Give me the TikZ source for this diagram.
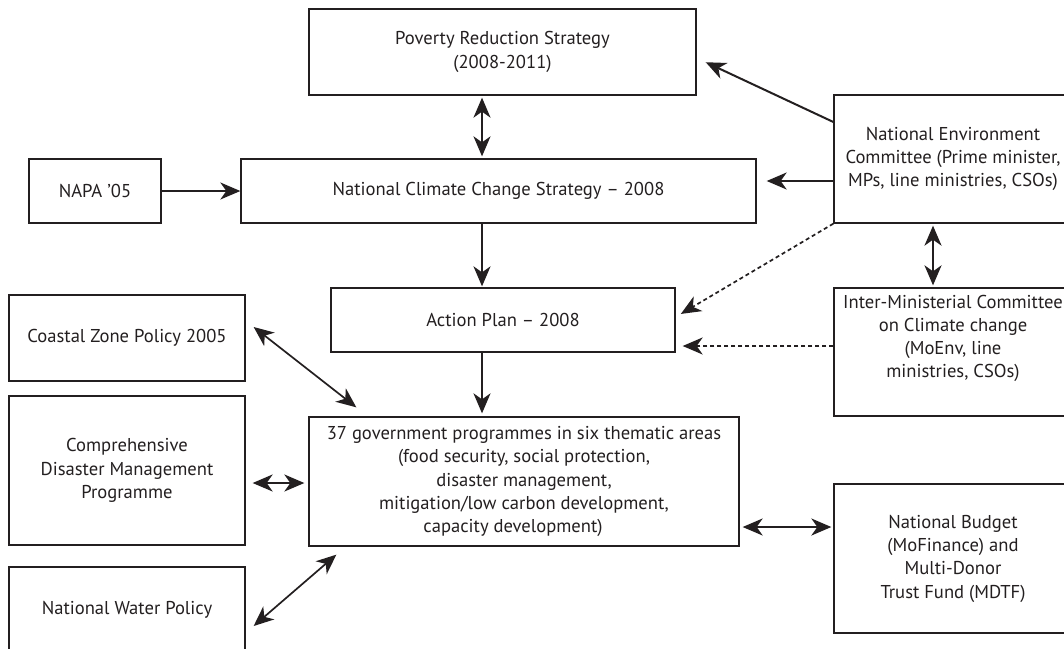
\documentclass[tikz,border=0pt]{standalone}
\usepackage{fontspec}
\setmainfont{PT Sans}
\usetikzlibrary{arrows.meta,calc}
\definecolor{ink}{HTML}{231F20}
\begin{document}
\begin{tikzpicture}[x=1pt,y=-1pt,
  box/.style={draw=ink, line width=1.3pt, align=center, inner sep=2pt, text=ink,
    font=\fontsize{18.6}{23.3}\selectfont},
  tip/.tip={Stealth[length=20pt,width=17pt,inset=6pt]},
  arr/.style={draw=ink, line width=2pt, -tip},
  darr/.style={draw=ink, line width=2pt, tip-tip},
  thin darr/.style={draw=ink, line width=1.7pt, tip-tip},
  dasharr/.style={draw=ink, line width=1.7pt, dash pattern=on 4pt off 3pt, -tip}]
\useasboundingbox (0,0) rectangle (1064,648);
\clip (0,0) rectangle (1064,648);

\node[box, minimum width=387pt, minimum height=86pt] (pov) at (502.5,52) {Poverty Reduction Strategy\\(2008-2011)};
\node[box, minimum width=132pt, minimum height=64pt] (napa) at (95,191) {NAPA ’05};
\node[box, minimum width=515pt, minimum height=64pt] (nccs) at (498.5,191) {National Climate Change Strategy – 2008};
\node[box, minimum width=238pt, minimum height=128pt] (nec) at (953,159) {National Environment\\Committee (Prime minister,\\MPs, line ministries, CSOs)};
\node[box, minimum width=344pt, minimum height=64pt] (ap) at (503,320) {Action Plan – 2008};
\node[box, minimum width=238pt, minimum height=128pt] (imc) at (953,352) {Inter-Ministerial Committee\\on Climate change\\(MoEnv, line\\ministries, CSOs)\\[8pt]};
\node[box, minimum width=236pt, minimum height=86pt] (coastal) at (127,338) {Coastal Zone Policy 2005};
\node[box, minimum width=236pt, minimum height=149pt] (cdm) at (127,470.5) {Comprehensive\\Disaster Management\\Programme};
\node[box, minimum width=236pt, minimum height=86pt] (water) at (127,610) {National Water Policy};
\node[box, minimum width=430pt, minimum height=129pt] (gov) at (524,481.5) {37 government programmes in six thematic areas\\(food security, social protection,\hspace*{22pt}\\disaster management,\hspace*{22pt}\\mitigation/low carbon development,\hspace*{22pt}\\capacity development)\hspace*{22pt}};
\node[box, minimum width=238pt, minimum height=149pt] (budget) at (953,558.5) {National Budget\\(MoFinance) and\\Multi-Donor\\Trust Fund (MDTF)};

% helper coordinates
\coordinate (cx) at (482,0);
\coordinate (cy) at (0,483);
\coordinate (necA) at ([yshift=-22pt]nec.west);
\coordinate (necB) at ([yshift=37pt]nec.west);
\coordinate (imcA) at ([yshift=6pt]imc.west);
\coordinate (ncx) at (933,0);
\coordinate (govY) at (0,527);

% connectors
\draw[arr] (napa.east) -- (nccs.west);
\draw[darr, shorten <=2pt, shorten >=2pt] (pov.south -| cx) -- (nccs.north -| cx);
\draw[arr, shorten >=1pt] (nccs.south -| cx) -- (ap.north -| cx);
\draw[arr, shorten >=3pt] (ap.south -| cx) -- (gov.north -| cx);
\draw[arr, shorten >=10pt] (necA) -- (necA -| nccs.east);
\draw[arr, shorten >=10pt] (necB) -- ([yshift=-6pt]pov.east);
\draw[darr, shorten <=2pt, shorten >=2pt] (nec.south -| ncx) -- (imc.north -| ncx);
\draw[dasharr, shorten >=6pt] (nec.south west) -- ([yshift=3pt]ap.east);
\draw[dasharr, shorten >=7pt] (imcA) -- (imcA -| ap.east);
\draw[thin darr] ([xshift=8pt,yshift=11pt]coastal.east) -- ([xshift=48pt,yshift=9pt]gov.north west);
\draw[darr, shorten <=7pt, shorten >=4pt] (cdm.east |- cy) -- (gov.west |- cy);
\draw[thin darr] ([xshift=8pt,yshift=-16pt]water.east) -- ([xshift=28pt,yshift=-8pt]gov.south west);
\draw[darr, shorten <=3pt, shorten >=2pt] (gov.east |- govY) -- (budget.west |- govY);
\end{tikzpicture}
\end{document}
